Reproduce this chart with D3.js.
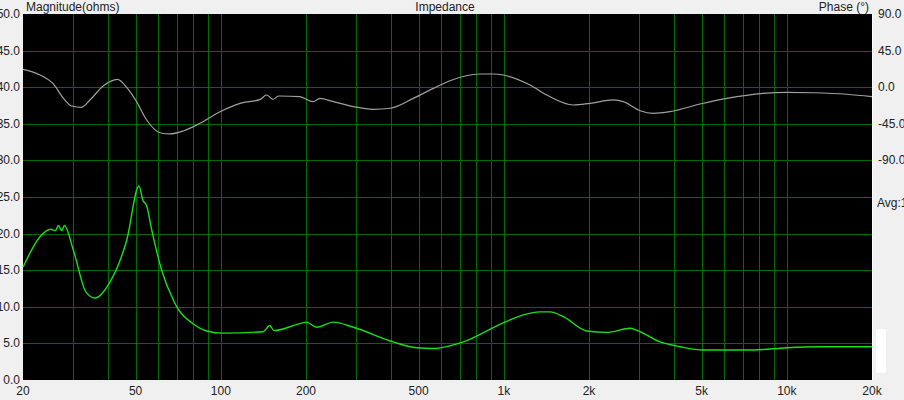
<!DOCTYPE html>
<html>
<head>
<meta charset="utf-8">
<script src="https://cdn.jsdelivr.net/npm/d3@7"></script>
<style>
  body { margin: 0; background: #f0f0f0; }
  text { font-family: "Liberation Sans", Arial, sans-serif; font-size: 12px; fill: #222; }
</style>
</head>
<body>
<div id="viz"></div>
<script>
// impedance magnitude (ohms) vs frequency (Hz)
var magFreq = [20, 23, 25, 26, 26.7, 27.4, 28, 30.1, 33.4, 35.9, 40.6, 46.5, 51.4, 53, 54.7, 57, 61.8, 68, 69.9, 80, 89.2, 102, 141, 149, 154, 190, 201, 218, 250, 294, 407, 492, 564, 719, 970, 1172, 1343, 1456, 1623, 1963, 2310, 2792, 2949, 3564, 4195, 5070, 7613, 9991, 13104, 20000];
var magValues = [15.4, 19.6, 20.6, 20.4, 21.1, 20.4, 21.1, 17.8, 12.0, 11.2, 13.4, 19.1, 26.5, 24.6, 23.8, 20.5, 15.0, 10.9, 10.0, 7.65, 6.7, 6.4, 6.6, 7.45, 6.75, 7.7, 7.9, 7.2, 7.9, 7.2, 5.2, 4.4, 4.3, 5.2, 7.6, 8.9, 9.3, 9.3, 8.65, 6.7, 6.5, 7.06, 6.8, 5.2, 4.55, 4.1, 4.1, 4.4, 4.55, 4.55];

// phase (degrees) vs frequency (Hz)
var phaseFreq = [20, 23, 25.6, 27.8, 29.7, 32.2, 34.5, 38.4, 43.1, 46.5, 50.4, 54.7, 61, 66.1, 73.7, 84.4, 99.4, 117, 138, 145, 153, 160, 190, 212, 224, 250, 294, 346, 396, 479, 564, 645, 824, 918, 996, 1237, 1418, 1761, 2017, 2438, 2644, 3029, 3376, 3866, 4934, 6133, 8260, 9991, 12410, 16280, 20000];
var phaseValues = [22.0, 15.0, 4.0, -13.7, -23.1, -24.7, -15.7, 1.5, 9.7, -0.1, -17.8, -40.3, -56.0, -57.5, -53.8, -44.4, -30.1, -19.8, -14.9, -9.6, -14.9, -10.8, -11.7, -17.8, -13.7, -17.8, -23.9, -27.2, -25.9, -13.7, -1.4, 8.0, 16.2, 16.2, 15.0, 2.7, -9.6, -21.9, -19.8, -15.7, -17.8, -28.9, -32.1, -30.1, -20.7, -13.7, -7.5, -6.3, -6.8, -8.7, -11.7];

var xTicks = [20, 50, 100, 200, 500, 1000, 2000, 5000, 10000, 20000];
var xTickLabels = ['20', '50', '100', '200', '500', '1k', '2k', '5k', '10k', '20k'];
var magTicks = [0, 5, 10, 15, 20, 25, 30, 35, 40, 45, 50];
var phaseTicks = [90, 45, 0, -45, -90];
var gridFreqs = [30, 40, 50, 60, 70, 80, 90, 100, 200, 300, 400, 500, 600, 700, 800, 900,
                 1000, 2000, 3000, 4000, 5000, 6000, 7000, 8000, 9000, 10000];

var width = 904, height = 400;
var plotL = 23, plotR = 872, plotT = 14, plotB = 380;

var x = d3.scaleLog().domain([20, 20000]).range([plotL, plotR]);
var y = d3.scaleLinear().domain([0, 50]).range([plotB, plotT]);
var yPhase = d3.scaleLinear().domain([-360, 90]).range([plotB, plotT]);

var svg = d3.select('#viz').append('svg')
    .attr('width', width)
    .attr('height', height)
    .style('display', 'block');

svg.append('rect')
    .attr('x', plotL).attr('y', plotT)
    .attr('width', plotR - plotL).attr('height', plotB - plotT)
    .style('fill', '#000');

// grid
var grid = svg.append('g').style('shape-rendering', 'crispEdges');
grid.selectAll('line.v').data(gridFreqs)
  .enter().append('line')
    .attr('x1', function(d) { return Math.round(x(d)) + 0.5; })
    .attr('x2', function(d) { return Math.round(x(d)) + 0.5; })
    .attr('y1', plotT).attr('y2', plotB)
    .style('stroke', '#006b00');
grid.selectAll('line.h').data(magTicks.slice(1, -1))
  .enter().append('line')
    .attr('y1', function(d) { return Math.round(y(d)) + 0.5; })
    .attr('y2', function(d) { return Math.round(y(d)) + 0.5; })
    .attr('x1', plotL).attr('x2', plotR)
    .style('stroke', '#006b00');

svg.append('line')
    .attr('x1', plotR + 0.5).attr('x2', plotR + 0.5)
    .attr('y1', plotT).attr('y2', plotB)
    .style('stroke', '#ffffff');

// curves
var phaseLine = d3.line()
    .x(function(d, i) { return x(phaseFreq[i]); })
    .y(function(d) { return yPhase(d); })
    .curve(d3.curveMonotoneX);
svg.append('path')
    .attr('d', phaseLine(phaseValues))
    .style('fill', 'none')
    .style('stroke', '#a0a0a0')
    .style('stroke-width', 1.2);

var magLine = d3.line()
    .x(function(d, i) { return x(magFreq[i]); })
    .y(function(d) { return y(d); })
    .curve(d3.curveMonotoneX);
svg.append('path')
    .attr('d', magLine(magValues))
    .style('fill', 'none')
    .style('stroke', '#18e018')
    .style('stroke-width', 1.4);

// axis labels
svg.selectAll('text.mag').data(magTicks)
  .enter().append('text')
    .attr('x', 20)
    .attr('y', function(d) { return y(d) + 4; })
    .attr('text-anchor', 'end')
    .text(function(d) { return d.toFixed(1); });

svg.selectAll('text.ph').data(phaseTicks)
  .enter().append('text')
    .attr('x', 878)
    .attr('y', function(d) { return yPhase(d) + 4; })
    .text(function(d) { return d.toFixed(1); });

svg.selectAll('text.fx').data(xTicks)
  .enter().append('text')
    .attr('x', function(d) { return x(d); })
    .attr('y', 395)
    .attr('text-anchor', 'middle')
    .text(function(d, i) { return xTickLabels[i]; });

svg.append('text').attr('x', 26).attr('y', 11).text('Magnitude(ohms)');
svg.append('text').attr('x', 445).attr('y', 11).attr('text-anchor', 'middle').text('Impedance');
svg.append('text').attr('x', 869).attr('y', 11).attr('text-anchor', 'end').text('Phase (°)');
svg.append('text').attr('x', 877).attr('y', 207).text('Avg:1');

svg.append('rect')
    .attr('x', 876).attr('y', 329)
    .attr('width', 10).attr('height', 44)
    .attr('rx', 2)
    .style('fill', '#ffffff');
</script>
</body>
</html>
